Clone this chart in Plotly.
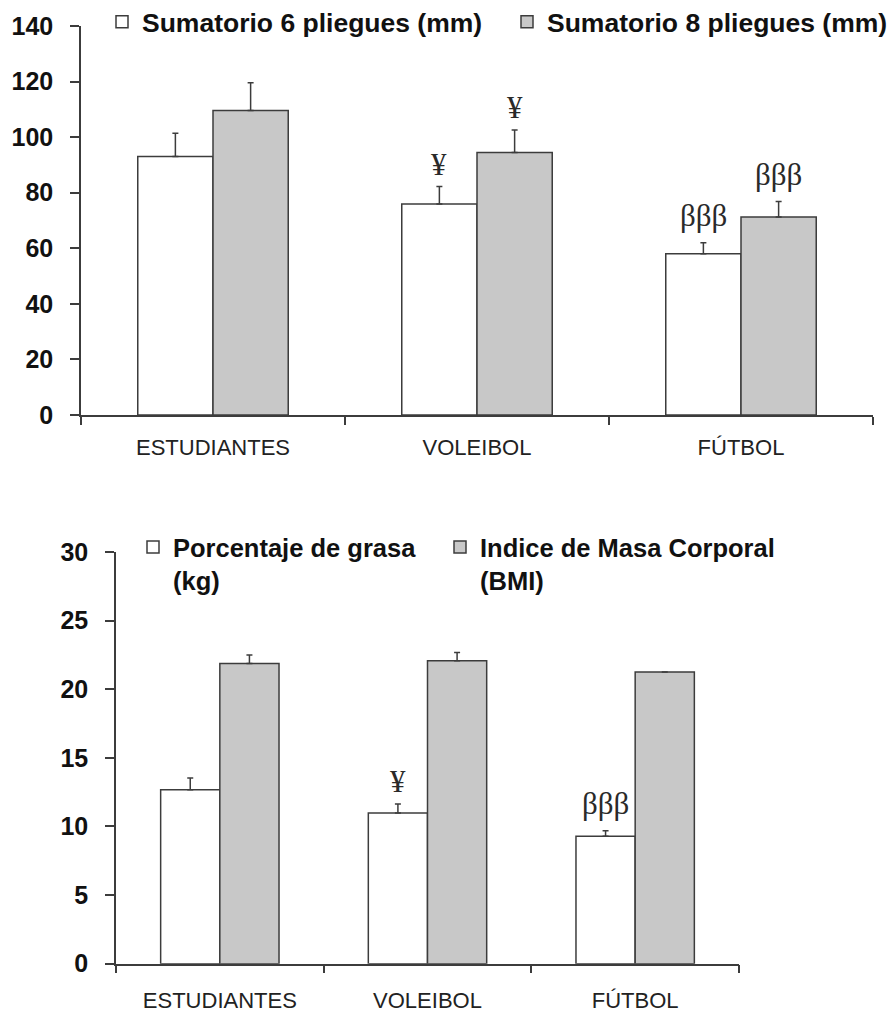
import plotly.graph_objects as go

# ---- data ----
grupos = ["ESTUDIANTES", "VOLEIBOL", "FÚTBOL"]

suma6 = [93.0, 75.9, 58.0]
suma6_err = [8.4, 6.3, 4.0]
suma8 = [109.6, 94.5, 71.3]
suma8_err = [10.0, 8.1, 5.5]

grasa = [12.68, 10.98, 9.28]
grasa_err = [0.85, 0.66, 0.40]
imc = [21.87, 22.08, 21.26]
imc_err = [0.63, 0.59, None]

# significance marks per bar (series, group index, symbol)
marcas_sup = [("s6", 1, "¥"), ("s8", 1, "¥"), ("s6", 2, "βββ"), ("s8", 2, "βββ")]
marcas_inf = [("g", 1, "¥"), ("g", 2, "βββ")]

ticks_sup = [0, 20, 40, 60, 80, 100, 120, 140]
ticks_inf = [0, 5, 10, 15, 20, 25, 30]

# ---- styling ----
W, H = 893, 1017
LINE = "#3c3c3c"
GRIS = "#c8c8c8"
SANS = "Liberation Sans, Arial, sans-serif"
SERIF = "Liberation Serif, Times New Roman, serif"
BARGAP = 0.43
HALF = (1 - BARGAP) / 4  # offset of each bar centre from its group centre
MARK_STYLE = {"¥": dict(size=31, yshift=3), "βββ": dict(size=31, yshift=8)}


def px_x(p):
    return p / W


def px_y(p):
    return 1 - p / H


def barra(x, y, err, color, name, xa, ya, legend):
    return go.Bar(
        x=x, y=y, name=name, xaxis=xa, yaxis=ya, legend=legend,
        marker=dict(color=color, line=dict(color=LINE, width=1.5)),
        error_y=dict(type="data", symmetric=False, array=err,
                     arrayminus=[0] * len(err), color=LINE,
                     thickness=1.5, width=3),
        width=(1 - BARGAP) / 2,
    )


fig = go.Figure()
fig.add_trace(barra(grupos, suma6, suma6_err, "white",
                    "Sumatorio 6 pliegues (mm)", "x", "y", "legend"))
fig.add_trace(barra(grupos, suma8, suma8_err, GRIS,
                    "Sumatorio 8 pliegues (mm)", "x", "y", "legend2"))
fig.add_trace(barra(grupos, grasa, grasa_err, "white",
                    "Porcentaje de grasa<br>(kg)", "x2", "y2", "legend3"))
fig.add_trace(barra(grupos, imc, imc_err, GRIS,
                    "Indice de Masa Corporal<br>(BMI)", "x2", "y2", "legend4"))

# significance symbols above the error bars
series = {
    "s6": (suma6, suma6_err, -1, "x", "y"),
    "s8": (suma8, suma8_err, 1, "x", "y"),
    "g": (grasa, grasa_err, -1, "x2", "y2"),
    "i": (imc, imc_err, 1, "x2", "y2"),
}
for key, i, sym in marcas_sup + marcas_inf:
    vals, errs, side, xr, yr = series[key]
    top = vals[i] + (errs[i] or 0)
    st = MARK_STYLE[sym]
    fig.add_annotation(
        x=i + side * HALF, y=top, xref=xr, yref=yr, text=sym,
        showarrow=False, yanchor="bottom", yshift=st["yshift"],
        font=dict(family=SERIF, size=st["size"], color="#2a2a2a"),
    )

axis_common = dict(
    showline=True, linecolor=LINE, linewidth=1.5,
    ticks="outside", tickcolor=LINE, tickwidth=1.5,
    showgrid=False, zeroline=False, automargin=False,
)

fig.update_layout(
    template="none",
    width=W, height=H,
    margin=dict(l=0, r=0, t=0, b=0, pad=0, autoexpand=False),
    paper_bgcolor="white", plot_bgcolor="white",
    barmode="group", bargap=BARGAP, bargroupgap=0,
    showlegend=True,
    xaxis=dict(domain=[px_x(81), px_x(873)], anchor="y", type="category",
               tickson="boundaries", ticklen=8,
               tickfont=dict(family=SANS, size=22, color="#222"),
               ticklabelstandoff=12, **axis_common),
    yaxis=dict(domain=[px_y(415), px_y(26)], anchor="x", range=[0, 140],
               tickvals=ticks_sup, ticklen=9, ticklabelstandoff=12,
               tickfont=dict(family=SANS, size=25, color="#111", weight="bold"),
               **axis_common),
    xaxis2=dict(domain=[px_x(116), px_x(739)], anchor="y2", type="category",
                tickson="boundaries", ticklen=8,
                tickfont=dict(family=SANS, size=22, color="#222"),
                ticklabelstandoff=16, **axis_common),
    yaxis2=dict(domain=[px_y(963.7), px_y(552)], anchor="x2", range=[0, 30],
                tickvals=ticks_inf, ticklen=9, ticklabelstandoff=12,
                tickfont=dict(family=SANS, size=25, color="#111", weight="bold"),
                **axis_common),
)

leg_common = dict(bgcolor="rgba(0,0,0,0)", borderwidth=0,
                  xanchor="left", yanchor="top", valign="top",
                  tracegroupgap=0, itemclick=False, itemdoubleclick=False)
leg_top = dict(family=SANS, size=26.5, color="#111", weight="bold")
leg_bot = dict(family=SANS, size=25.5, color="#111", weight="bold")
fig.update_layout(
    legend=dict(x=px_x(102), y=px_y(-2), font=leg_top, **leg_common),
    legend2=dict(x=px_x(507), y=px_y(-2), font=leg_top, **leg_common),
    legend3=dict(x=px_x(133), y=px_y(524), font=leg_bot, **leg_common),
    legend4=dict(x=px_x(440), y=px_y(524), font=leg_bot, **leg_common),
)

fig.write_html("out.html")
